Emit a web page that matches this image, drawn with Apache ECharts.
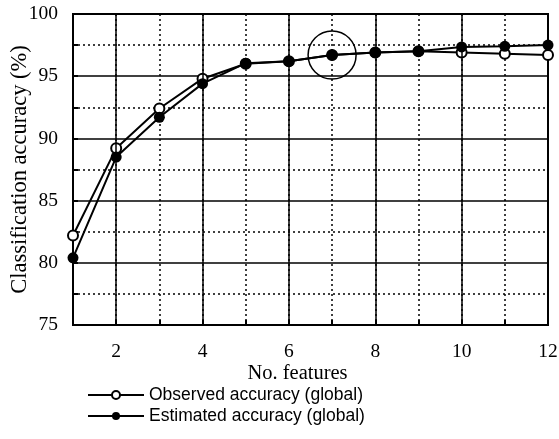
<!DOCTYPE html>
<html>
<head>
<meta charset="utf-8">
<script src="https://cdn.jsdelivr.net/npm/echarts@6/dist/echarts.min.js"></script>
<style>
  html, body { margin: 0; padding: 0; background: #fff; }
  #chart { width: 559px; height: 439px; }
</style>
</head>
<body>
<div id="chart"></div>
<script>
// values
const features = [1, 2, 3, 4, 5, 6, 7, 8, 9, 10, 11, 12]
const observed = [82.2, 89.2, 92.4, 94.8, 96.0, 96.2, 96.7, 96.9, 97.0, 96.9, 96.8, 96.7]
const estimated = [80.4, 88.5, 91.7, 94.4, 96.05, 96.2, 96.7, 96.9, 97.0, 97.35, 97.4, 97.5]
const majorX = [2, 4, 6, 8, 10]
const highlight = [7, 96.7]

const serif = 'Liberation Serif'
const sans = 'Liberation Sans'

const chart = echarts.init(document.getElementById('chart'))

function pairs(ys) {
  return features.map((x, i) => [x, ys[i]])
}

chart.setOption({
  animation: false,
  backgroundColor: '#fff',
  grid: {
    left: 73,
    right: 11,
    top: 14,
    bottom: 114,
    outerBoundsMode: 'none',
    containLabel: false,
    show: true,
    borderColor: '#000',
    borderWidth: 2
  },
  legend: {
    orient: 'vertical',
    left: 82,
    top: 381,
    itemWidth: 56,
    itemHeight: 10,
    itemGap: 3,
    textStyle: { fontFamily: sans, fontSize: 17.5, color: '#000' },
    data: ['Observed accuracy (global)', 'Estimated accuracy (global)']
  },
  xAxis: {
    type: 'value',
    min: 1,
    max: 12,
    interval: 1,
    name: 'No. features',
    nameLocation: 'middle',
    nameGap: 38,
    nameMoveOverlap: false,
    nameTextStyle: { fontFamily: serif, fontSize: 20.5, color: '#000', padding: [0, 26, 0, 0] },
    axisLine: { lineStyle: { color: '#000', width: 2 } },
    axisTick: { inside: true, length: 5, lineStyle: { color: '#000', width: 2 } },
    axisLabel: {
      margin: 17,
      fontFamily: serif,
      fontSize: 19.5,
      color: '#000',
      formatter: v => (v % 2 === 0 ? String(v) : '')
    },
    splitLine: { show: true, lineStyle: { color: '#000', width: 1.5, type: [2, 3] } }
  },
  yAxis: {
    type: 'value',
    min: 75,
    max: 100,
    interval: 5,
    name: 'Classification accuracy (%)',
    nameLocation: 'middle',
    nameGap: 41,
    nameMoveOverlap: false,
    nameTextStyle: { fontFamily: serif, fontSize: 22.5, color: '#000' },
    axisLine: { lineStyle: { color: '#000', width: 2 } },
    axisTick: { inside: true, length: 5, lineStyle: { color: '#000', width: 2 } },
    minorTick: { show: true, splitNumber: 2, length: 5, lineStyle: { color: '#000', width: 2 } },
    axisLabel: { margin: 15, fontFamily: serif, fontSize: 19.5, color: '#000' },
    splitLine: { show: true, lineStyle: { color: '#000', width: 1.5 } },
    minorSplitLine: { show: true, lineStyle: { color: '#000', width: 1.5, type: [2, 3] } }
  },
  series: [
    {
      name: 'Estimated accuracy (global)',
      type: 'line',
      data: pairs(estimated),
      symbol: 'circle',
      symbolSize: 11,
      itemStyle: { color: '#000' },
      lineStyle: { color: '#000', width: 2 },
      markLine: {
        silent: true,
        symbol: 'none',
        label: { show: false },
        lineStyle: { color: '#000', width: 1.5, type: 'solid' },
        data: majorX.map(x => ({ xAxis: x }))
      },
      markPoint: {
        silent: true,
        symbol: 'circle',
        symbolSize: 48,
        itemStyle: { color: 'rgba(0,0,0,0)', borderColor: '#000', borderWidth: 1.5 },
        label: { show: false },
        data: [{ coord: highlight }]
      },
      z: 3
    },
    {
      name: 'Observed accuracy (global)',
      type: 'line',
      data: pairs(observed),
      symbol: 'circle',
      symbolSize: 10,
      itemStyle: { color: '#fff', borderColor: '#000', borderWidth: 2 },
      lineStyle: { color: '#000', width: 2 },
      z: 2
    }
  ]
})
</script>
</body>
</html>
